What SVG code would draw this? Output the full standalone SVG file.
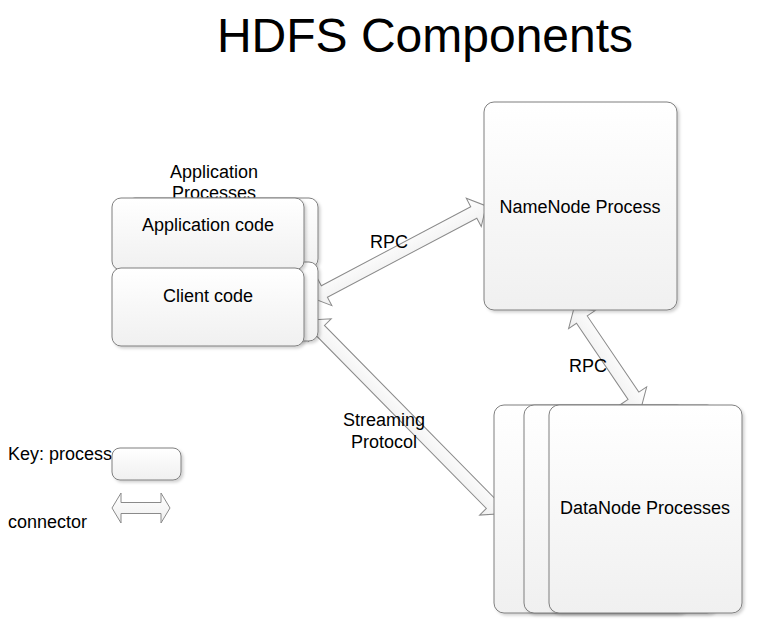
<svg xmlns="http://www.w3.org/2000/svg" width="758" height="620" viewBox="0 0 758 620">
<defs>
<linearGradient id="g" x1="0" y1="0" x2="0" y2="1">
<stop offset="0" stop-color="#ffffff"/>
<stop offset="1" stop-color="#f0f0f0"/>
</linearGradient>
<linearGradient id="ga" x1="0" y1="0" x2="0" y2="1">
<stop offset="0" stop-color="#ffffff"/>
<stop offset="1" stop-color="#efefef"/>
</linearGradient>
<filter id="sh" x="-10%" y="-10%" width="125%" height="125%">
<feDropShadow dx="2" dy="2" stdDeviation="1.5" flood-color="#000" flood-opacity="0.18"/>
</filter>
</defs>
<style>
text{font-family:"Liberation Sans",Arial,sans-serif;fill:#000;}
.box{fill:url(#g);stroke:#7f7f7f;stroke-width:1;filter:url(#sh);}
.arr{fill:url(#ga);stroke:#8a8a8a;stroke-width:1;stroke-linejoin:miter;}
.lbl{font-size:18px;}
</style>
<rect width="758" height="620" fill="#ffffff"/>
<text x="425" y="52" font-size="48" text-anchor="middle">HDFS Components</text>

<g id="connectors">
<path class="arr" transform="translate(312,298) rotate(-27.87)" d="M0,0 L14,-16 L14,-6.5 L183,-6.5 L183,-16 L197,0 L183,16 L183,6.5 L14,6.5 L14,16 Z"/>
<path class="arr" transform="translate(310,320) rotate(45.45)" d="M0,0 L14,-16 L14,-6.5 L258,-6.5 L258,-16 L272,0 L258,16 L258,6.5 L14,6.5 L14,16 Z"/>
<path class="arr" transform="translate(574,308) rotate(55.9)" d="M0,0 L14,-16 L14,-6.5 L106,-6.5 L106,-16 L120,0 L106,16 L106,6.5 L14,6.5 L14,16 Z"/>
<text class="lbl" x="389" y="248" text-anchor="middle">RPC</text>
<text class="lbl" x="588" y="372" text-anchor="middle">RPC</text>
<text class="lbl" x="384" y="426" text-anchor="middle">Streaming</text>
<text class="lbl" x="384" y="448" text-anchor="middle">Protocol</text>
</g>

<g id="app-processes">
<text class="lbl" x="214" y="178" text-anchor="middle">Application</text>
<text class="lbl" x="214" y="199" text-anchor="middle">Processes</text>
<rect class="box" x="126" y="198" width="192" height="70" rx="9"/>
<rect class="box" x="126" y="262" width="192" height="79" rx="9"/>
</g>
<g id="application-code">
<rect class="box" x="112" y="198" width="192" height="72" rx="9"/>
<text class="lbl" x="208" y="231" text-anchor="middle">Application code</text>
</g>
<g id="client-code">
<rect class="box" x="112" y="268" width="192" height="78" rx="9"/>
<text class="lbl" x="208" y="302" text-anchor="middle">Client code</text>
</g>

<g id="namenode">
<rect class="box" x="484" y="102" width="193" height="208" rx="10"/>
<text class="lbl" x="580" y="213" text-anchor="middle">NameNode Process</text>
</g>

<g id="datanodes">
<rect class="box" x="494" y="405" width="193" height="208" rx="10"/>
<rect class="box" x="524" y="405" width="193" height="208" rx="10"/>
<rect class="box" x="549" y="405" width="193" height="208" rx="10"/>
<text class="lbl" x="645" y="514" text-anchor="middle">DataNode Processes</text>
</g>

<g id="key">
<text class="lbl" x="8" y="460">Key: process</text>
<rect class="box" x="112" y="448" width="69" height="32" rx="8"/>
<text class="lbl" x="8" y="528">connector</text>
<path class="arr" d="M112,508 L121,493 L121,502.5 L161,502.5 L161,493 L170,508 L161,523 L161,513.5 L121,513.5 L121,523 Z"/>
</g>
</svg>
